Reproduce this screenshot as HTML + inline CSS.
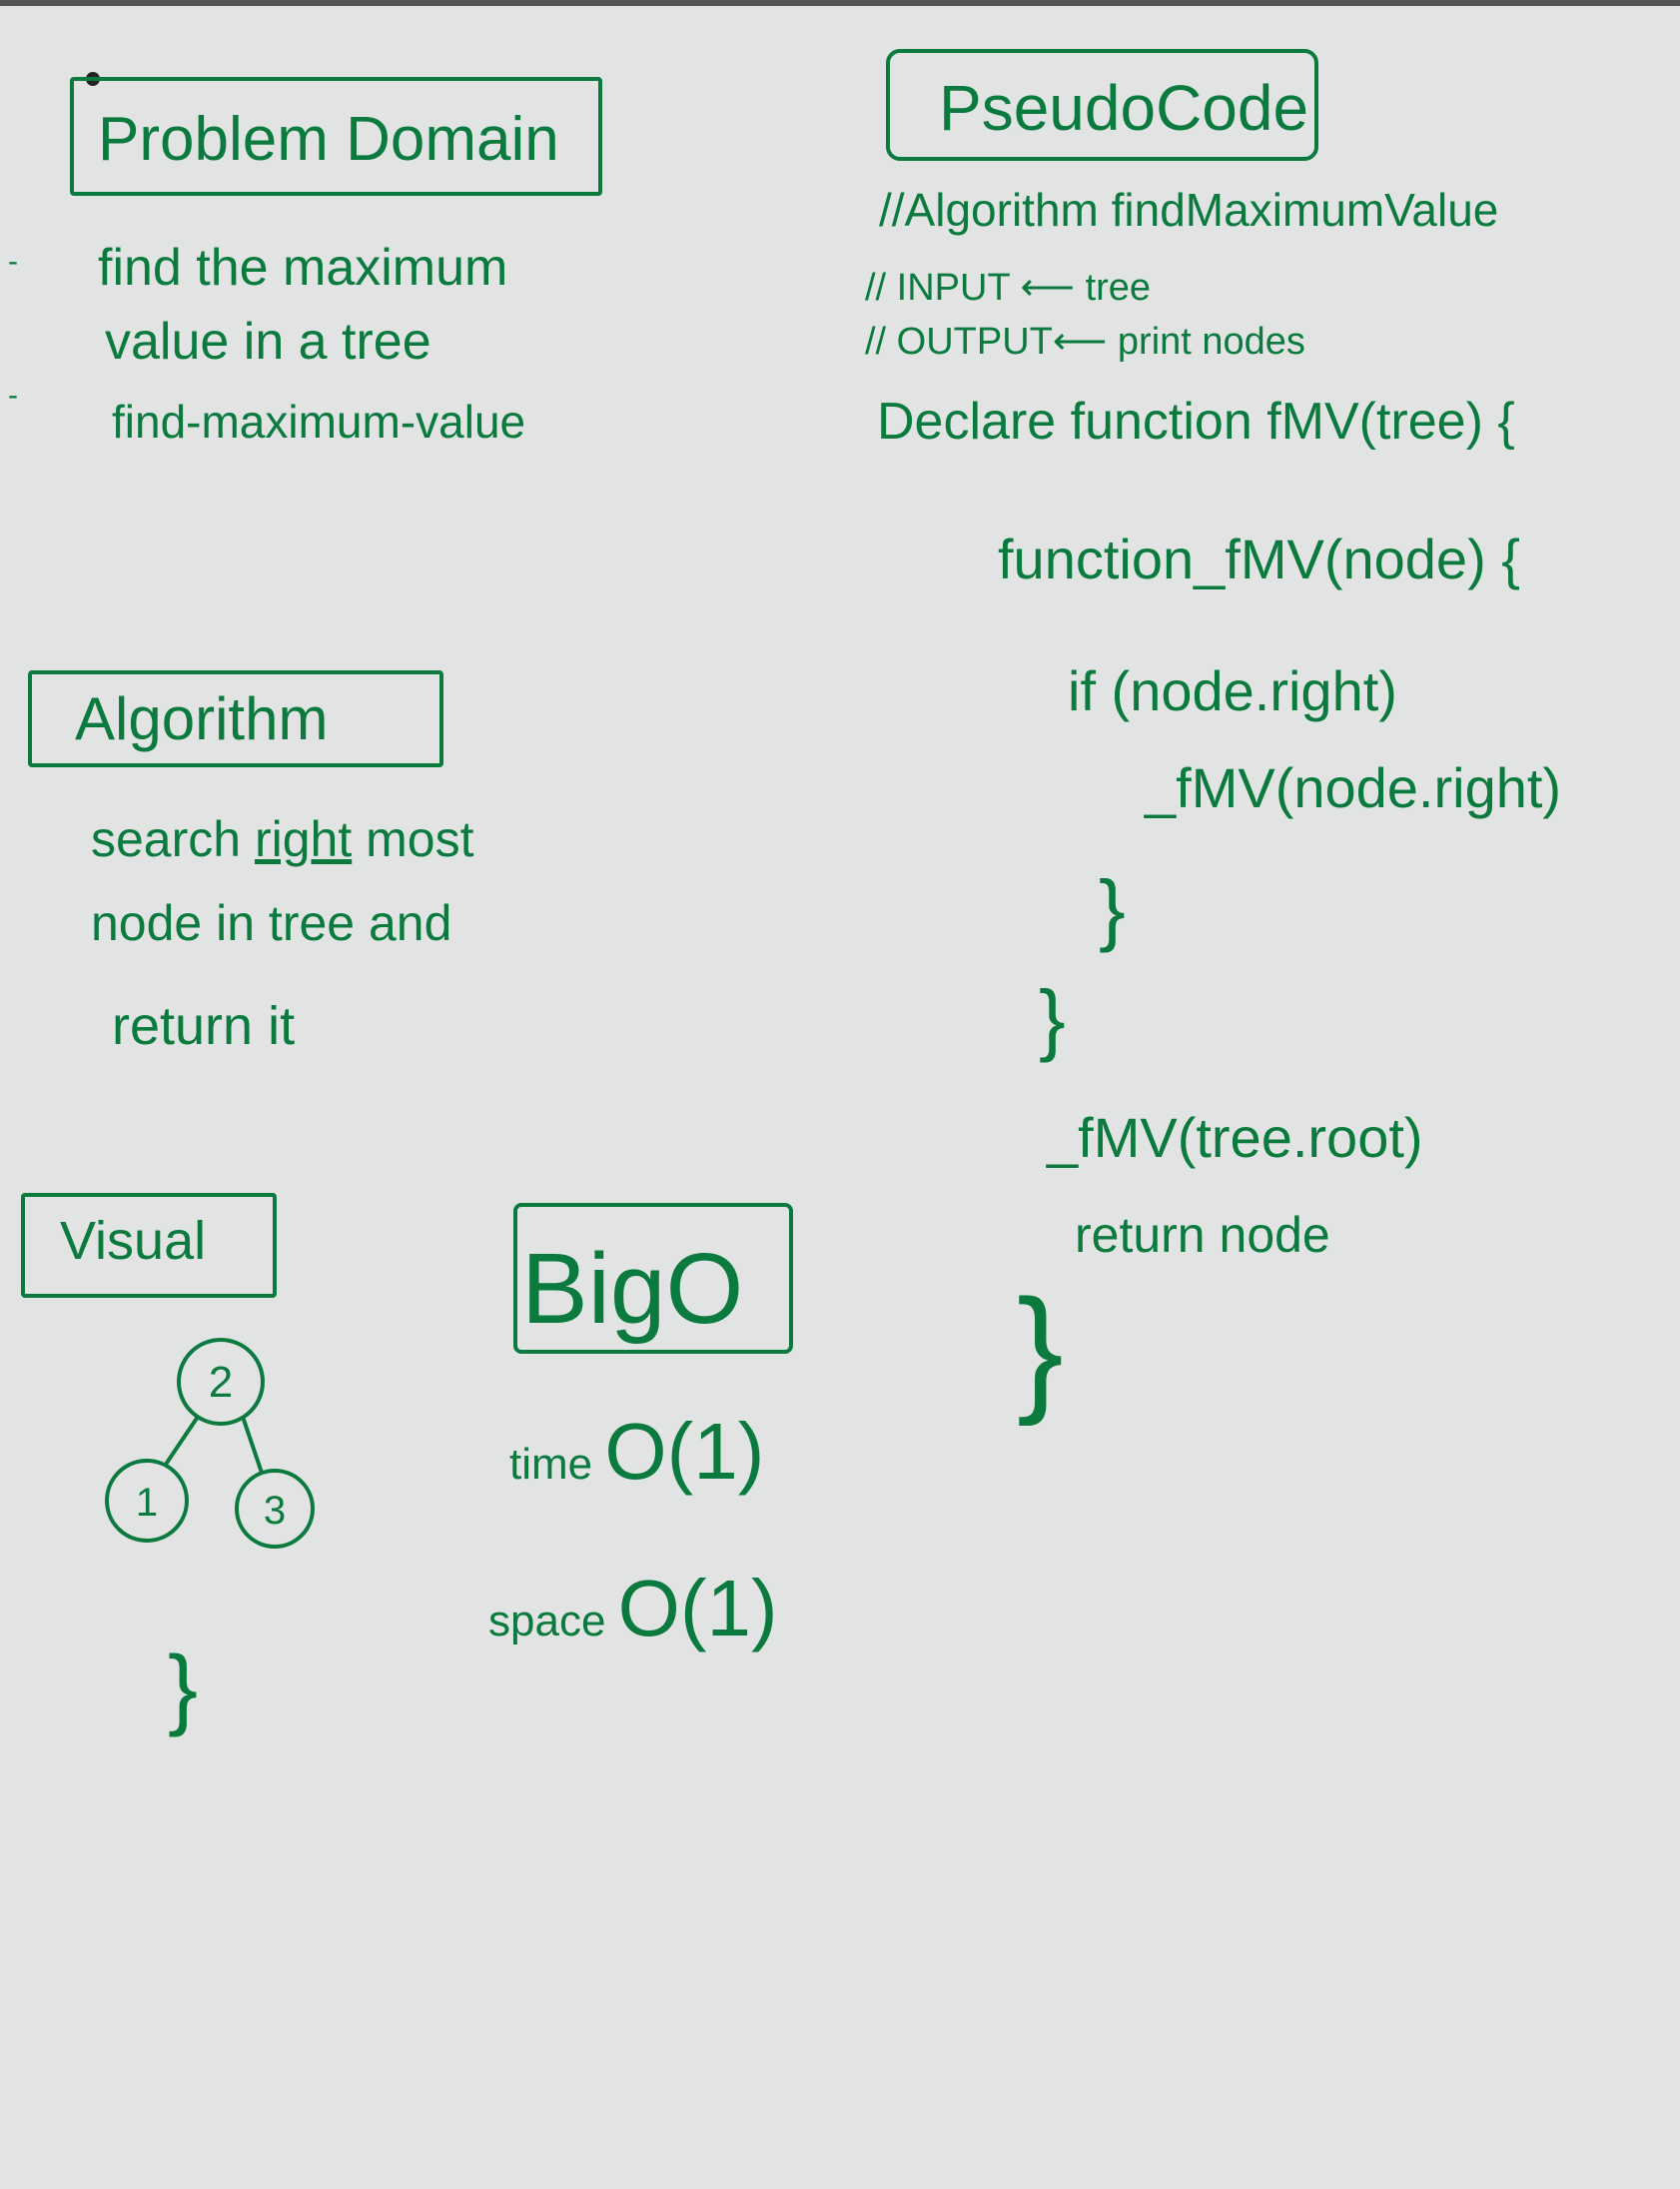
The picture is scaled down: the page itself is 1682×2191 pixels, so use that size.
<!DOCTYPE html>
<html><head><meta charset="utf-8"><style>
html,body{margin:0;padding:0}
body{width:1682px;height:2191px;background:#e2e3e3;position:relative;overflow:hidden;font-family:"Liberation Sans",sans-serif;color:#0b7a3f}
.t{position:absolute;white-space:nowrap;line-height:1;transform:translateY(-50%)}
.b{position:absolute;border:4px solid #0b7a3f;box-sizing:border-box;border-radius:4px}
</style></head><body>
<div style="position:absolute;left:0;top:0;width:1682px;height:6px;background:#555"></div>
<div style="position:absolute;left:86px;top:72px;width:14px;height:14px;border-radius:50%;background:#222"></div>

<div class="b" style="left:70px;top:77px;width:533px;height:119px"></div>
<div class="t" style="left:98px;top:140px;font-size:62px">Problem Domain</div>
<div class="t" style="left:8px;top:262px;font-size:30px">-</div>
<div class="t" style="left:98px;top:268px;font-size:52px">find the maximum</div>
<div class="t" style="left:105px;top:342px;font-size:52px">value in a tree</div>
<div class="t" style="left:8px;top:396px;font-size:30px">-</div>
<div class="t" style="left:112px;top:422px;font-size:46px">find-maximum-value</div>

<div class="b" style="left:887px;top:49px;width:433px;height:112px;border-radius:14px"></div>
<div class="t" style="left:940px;top:108px;font-size:64px">PseudoCode</div>
<div class="t" style="left:880px;top:210px;font-size:46px">//Algorithm findMaximumValue</div>
<div class="t" style="left:866px;top:288px;font-size:38px">// INPUT ⟵ tree</div>
<div class="t" style="left:866px;top:342px;font-size:38px">// OUTPUT⟵ print nodes</div>
<div class="t" style="left:878px;top:422px;font-size:52px">Declare function fMV(tree) {</div>
<div class="t" style="left:999px;top:560px;font-size:56px">function_fMV(node) {</div>
<div class="t" style="left:1069px;top:692px;font-size:56px">if (node.right)</div>
<div class="t" style="left:1146px;top:789px;font-size:56px">_fMV(node.right)</div>
<div class="t" style="left:1100px;top:910px;font-size:80px">}</div>
<div class="t" style="left:1040px;top:1020px;font-size:80px">}</div>
<div class="t" style="left:1048px;top:1139px;font-size:56px">_fMV(tree.root)</div>
<div class="t" style="left:1076px;top:1236px;font-size:50px">return node</div>
<div class="t" style="left:1018px;top:1350px;font-size:140px">}</div>

<div class="b" style="left:28px;top:671px;width:416px;height:97px"></div>
<div class="t" style="left:75px;top:720px;font-size:60px">Algorithm</div>
<div class="t" style="left:91px;top:840px;font-size:50px">search <u>right</u> most</div>
<div class="t" style="left:91px;top:924px;font-size:50px">node in tree and</div>
<div class="t" style="left:112px;top:1027px;font-size:54px">return it</div>

<div class="b" style="left:21px;top:1194px;width:256px;height:105px"></div>
<div class="t" style="left:60px;top:1242px;font-size:54px">Visual</div>
<svg style="position:absolute;left:0;top:0" width="700" height="1800">
<g fill="none" stroke="#0b7a3f" stroke-width="4">
<circle cx="221" cy="1383" r="42"/>
<circle cx="147" cy="1502" r="40"/>
<circle cx="275" cy="1510" r="38"/>
<line x1="198" y1="1418" x2="165" y2="1467"/>
<line x1="243" y1="1418" x2="262" y2="1474"/>
</g>
<text x="221" y="1398" font-size="44" fill="#0b7a3f" text-anchor="middle" font-family="Liberation Sans">2</text>
<text x="147" y="1517" font-size="40" fill="#0b7a3f" text-anchor="middle" font-family="Liberation Sans">1</text>
<text x="275" y="1525" font-size="40" fill="#0b7a3f" text-anchor="middle" font-family="Liberation Sans">3</text>
</svg>
<div class="t" style="left:168px;top:1690px;font-size:90px">}</div>

<div class="b" style="left:514px;top:1204px;width:280px;height:151px;border-radius:8px"></div>
<div class="t" style="left:522px;top:1290px;font-size:100px">BigO</div>
<div class="t" style="left:510px;top:1453px;font-size:44px">time <span style="font-size:80px">O(1)</span></div>
<div class="t" style="left:489px;top:1610px;font-size:44px">space <span style="font-size:80px">O(1)</span></div>
</body></html>
